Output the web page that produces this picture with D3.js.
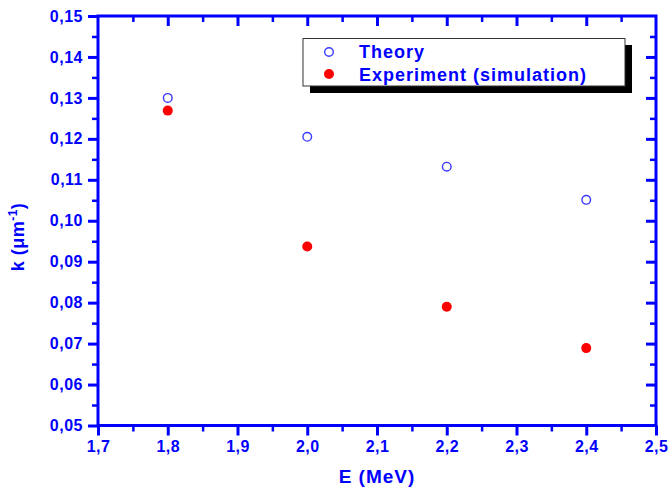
<!DOCTYPE html>
<html><head><meta charset="utf-8">
<script src="https://cdn.jsdelivr.net/npm/d3@7"></script>
<style>body{margin:0;background:#fff;}svg{display:block;font-family:"Liberation Sans",Arial,sans-serif;}</style>
</head><body><svg id="c" width="672" height="491"></svg>
<script>
const energies = [1.8, 2.0, 2.2, 2.4];
const theory = [0.1300, 0.1205, 0.1132, 0.1051];
const experiment = [0.1269, 0.0937, 0.0790, 0.0689];
const xTicks = [1.7, 1.8, 1.9, 2.0, 2.1, 2.2, 2.3, 2.4, 2.5];
const yTicks = [0.05, 0.06, 0.07, 0.08, 0.09, 0.10, 0.11, 0.12, 0.13, 0.14, 0.15];
const seriesNames = ["Theory", "Experiment (simulation)"];

const blue = "#0000ff";
const svg = d3.select("#c");
const L = 98, R = 656, T = 16, B = 425.5;
const x = d3.scaleLinear().domain([1.7, 2.5]).range([L, R]);
const y = d3.scaleLinear().domain([0.05, 0.15]).range([B, T]);
const fmtX = d => d3.format(".1f")(d).replace(".", ",");
const fmtY = d => d3.format(".2f")(d).replace(".", ",");

const xMinor = d3.range(17.5, 25, 1).map(v => v / 10);
const yMinor = d3.range(5.5, 15, 1).map(v => v / 100);

function styleAxis(g, w) {
  g.select(".domain").remove();
  g.selectAll(".tick line").attr("stroke", blue).attr("stroke-width", w);
  g.selectAll("text").attr("fill", blue).attr("font-weight", "bold")
    .attr("font-size", "16px").style("letter-spacing", "0.5px");
}

// minor ticks
svg.append("g").attr("transform", `translate(0,${B})`)
  .call(d3.axisBottom(x).tickValues(xMinor).tickSize(6).tickFormat(""))
  .call(g => styleAxis(g, 2.5));
svg.append("g").attr("transform", `translate(0,${T})`)
  .call(d3.axisBottom(x).tickValues(xMinor).tickSize(6).tickFormat(""))
  .call(g => styleAxis(g, 2.5));
svg.append("g").attr("transform", `translate(${L},0)`)
  .call(d3.axisLeft(y).tickValues(yMinor).tickSize(6).tickFormat(""))
  .call(g => styleAxis(g, 2.5));
svg.append("g").attr("transform", `translate(${R},0)`)
  .call(d3.axisLeft(y).tickValues(yMinor).tickSize(6).tickFormat(""))
  .call(g => styleAxis(g, 2.5));

// major ticks
svg.append("g").attr("transform", `translate(0,${B})`)
  .call(d3.axisBottom(x).tickValues(xTicks).tickSize(10).tickPadding(5).tickFormat(fmtX))
  .call(g => styleAxis(g, 3));
svg.append("g").attr("transform", `translate(0,${T})`)
  .call(d3.axisBottom(x).tickValues(xTicks.slice(1, -1)).tickSize(10).tickFormat(""))
  .call(g => styleAxis(g, 3));
svg.append("g").attr("transform", `translate(${L},0)`)
  .call(d3.axisLeft(y).tickValues(yTicks).tickSize(10).tickPadding(5).tickFormat(fmtY))
  .call(g => styleAxis(g, 3));
svg.append("g").attr("transform", `translate(${R},0)`)
  .call(d3.axisLeft(y).tickValues(yTicks.slice(1, -1)).tickSize(10).tickFormat(""))
  .call(g => styleAxis(g, 3));

// frame
svg.append("rect").attr("x", L).attr("y", T).attr("width", R - L).attr("height", B - T)
  .attr("fill", "none").attr("stroke", blue).attr("stroke-width", 3);

// axis titles
svg.append("text").attr("x", 377).attr("y", 483).attr("text-anchor", "middle")
  .attr("fill", blue).attr("font-weight", "bold").attr("font-size", "19px")
  .style("letter-spacing", "1px").text("E (MeV)");
const yt = svg.append("text").attr("transform", "translate(24,237) rotate(-90)")
  .attr("text-anchor", "middle").attr("fill", blue).attr("font-weight", "bold")
  .attr("font-size", "18px").style("letter-spacing", "0.5px");
yt.append("tspan").text("k (\u03bcm");
yt.append("tspan").attr("font-size", "12px").attr("dy", -7).text("-1");
yt.append("tspan").attr("dy", 7).text(")");

// points
svg.append("g").selectAll("circle").data(energies.map((e, i) => [e, theory[i]]))
  .join("circle").attr("cx", d => x(d[0])).attr("cy", d => y(d[1])).attr("r", 4.3)
  .attr("fill", "none").attr("stroke", "#3a3aff").attr("stroke-width", 1.4);
svg.append("g").selectAll("circle").data(energies.map((e, i) => [e, experiment[i]]))
  .join("circle").attr("cx", d => x(d[0])).attr("cy", d => y(d[1])).attr("r", 5)
  .attr("fill", "#ff0000");

// legend
const lg = svg.append("g");
lg.append("rect").attr("x", 310).attr("y", 45).attr("width", 322).attr("height", 48).attr("fill", "#000");
lg.append("rect").attr("x", 303).attr("y", 38.5).attr("width", 322).attr("height", 47.5)
  .attr("fill", "#fff").attr("stroke", "#333").attr("stroke-width", 1);
lg.append("circle").attr("cx", 329).attr("cy", 52).attr("r", 4.3)
  .attr("fill", "none").attr("stroke", "#3a3aff").attr("stroke-width", 1.4);
lg.append("circle").attr("cx", 329).attr("cy", 74).attr("r", 5).attr("fill", "#ff0000");
lg.selectAll("text").data(seriesNames).join("text")
  .attr("x", 359).attr("y", (d, i) => 57.5 + i * 23.5)
  .attr("fill", blue).attr("font-weight", "bold").attr("font-size", "18px")
  .style("letter-spacing", "1px").text(d => d);
</script></body></html>
